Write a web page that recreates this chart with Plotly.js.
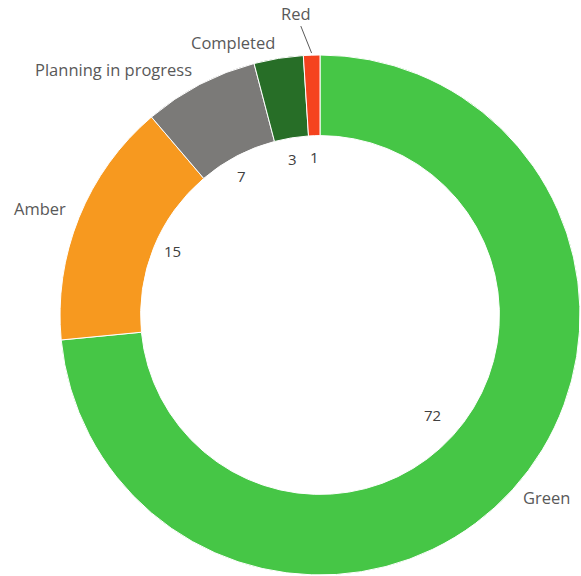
<!DOCTYPE html>
<html>
<head>
<meta charset="utf-8">
<script src="https://cdn.plot.ly/plotly-3.0.1.min.js"></script>
<style>html,body{margin:0;padding:0;background:#fff;}#chart{width:581px;height:576px;}</style>
</head>
<body>
<div id="chart"></div>
<script>
var categories = ["Green", "Amber", "Planning in progress", "Completed", "Red"];
var values = [72, 15, 7, 3, 1];
var colors = ["#46c646", "#f7991f", "#7b7a78", "#276e27", "#f5431e"];

var W = 581, H = 576;
var cxPx = 320, cyPx = 315, R = 260, hole = 0.69;

var total = values.reduce(function(a, b){ return a + b; }, 0);
var annotations = [];
var cum = 0;
function toPaper(px, py){ return {x: px / W, y: 1 - py / H}; }
values.forEach(function(v, i){
  var mid = (cum + v / 2) / total * 2 * Math.PI;
  cum += v;
  var ux = Math.sin(mid), uy = -Math.cos(mid);
  // value label just inside the hole
  var rv = (v > 50 ? 0.64 : 0.655) * R;
  var p = toPaper(cxPx + ux * rv, cyPx + uy * rv);
  annotations.push({x: p.x, y: p.y, xref: 'paper', yref: 'paper', text: String(v), showarrow: false,
    font: {family: 'Open Sans, sans-serif', size: 15, color: '#404040'}});
  // category label outside
  if (categories[i] === 'Red') {
    var rt = 1.008 * R;
    var t = toPaper(cxPx + ux * rt, cyPx + uy * rt);
    annotations.push({x: t.x, y: t.y, xref: 'paper', yref: 'paper', text: categories[i], showarrow: true,
      arrowhead: 0, arrowwidth: 1, arrowcolor: '#595959', ax: -16, ay: -40, standoff: 0,
      font: {family: 'Open Sans, sans-serif', size: 16.5, color: '#595959'}});
  } else {
    var rl = 1.045 * R;
    var q = toPaper(cxPx + ux * rl, cyPx + uy * rl);
    annotations.push({x: q.x, y: q.y, xref: 'paper', yref: 'paper', text: categories[i], showarrow: false,
      xanchor: ux >= 0 ? 'left' : 'right', yanchor: 'middle', yshift: uy < 0 ? 4.5 : 0,
      font: {family: 'Open Sans, sans-serif', size: 16.5, color: '#595959'}});
  }
});

var data = [{
  type: 'pie',
  labels: categories,
  values: values,
  marker: {colors: colors, line: {color: '#ffffff', width: 1}},
  hole: hole,
  sort: false,
  direction: 'clockwise',
  rotation: 0,
  textinfo: 'none',
  hoverinfo: 'label+value',
  domain: {x: [(cxPx - R) / W, (cxPx + R) / W], y: [1 - (cyPx + R) / H, 1 - (cyPx - R) / H]}
}];

var layout = {
  width: W, height: H,
  margin: {l: 0, r: 0, t: 0, b: 0},
  showlegend: false,
  paper_bgcolor: '#ffffff',
  annotations: annotations
};

Plotly.newPlot('chart', data, layout, {displayModeBar: false, staticPlot: true});
</script>
</body>
</html>
